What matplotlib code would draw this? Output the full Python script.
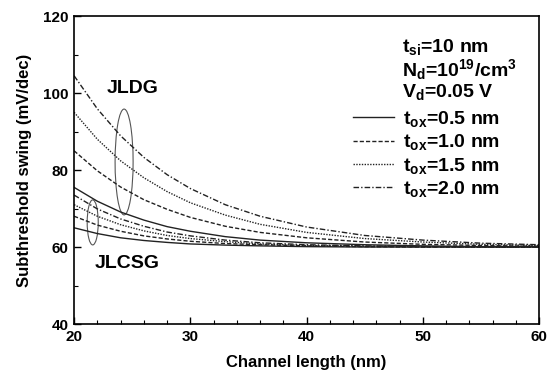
import matplotlib
matplotlib.use("Agg")
import matplotlib.pyplot as plt
from matplotlib.patches import Ellipse
from matplotlib.ticker import MultipleLocator

plt.rcParams['font.family'] = ['Liberation Sans', 'DejaVu Sans']
plt.rcParams['mathtext.fontset'] = 'custom'
plt.rcParams['mathtext.rm'] = 'Liberation Sans:bold'
plt.rcParams['mathtext.it'] = 'Liberation Sans:bold'
plt.rcParams['mathtext.bf'] = 'Liberation Sans:bold'

# Channel length (nm)
L = [20, 22, 24, 26, 28, 30, 33, 36, 40, 45, 50, 55, 60]

# JLDG subthreshold swing (mV/dec)
jldg_05 = [75.5, 71.9, 69.1, 67.0, 65.3, 64.1, 62.7, 61.8, 61.1, 60.6, 60.3, 60.1, 60.1]
jldg_10 = [85.0, 79.8, 75.6, 72.3, 69.8, 67.7, 65.4, 63.8, 62.4, 61.3, 60.7, 60.4, 60.2]
jldg_15 = [95.0, 88.0, 82.4, 78.0, 74.4, 71.5, 68.3, 65.9, 63.8, 62.2, 61.3, 60.7, 60.4]
jldg_20 = [104.5, 95.9, 88.9, 83.3, 78.8, 75.2, 71.0, 68.0, 65.2, 63.0, 61.8, 61.0, 60.6]

# JLCSG subthreshold swing (mV/dec)
jlcsg_05 = [65.0, 63.5, 62.4, 61.7, 61.2, 60.8, 60.5, 60.3, 60.1, 60.0, 60.0, 60.0, 60.0]
jlcsg_10 = [68.0, 65.7, 64.1, 62.9, 62.1, 61.5, 60.9, 60.6, 60.3, 60.1, 60.0, 60.0, 60.0]
jlcsg_15 = [71.0, 68.0, 65.8, 64.2, 63.0, 62.2, 61.4, 60.8, 60.4, 60.2, 60.1, 60.0, 60.0]
jlcsg_20 = [73.5, 69.9, 67.3, 65.4, 63.9, 62.9, 61.8, 61.1, 60.6, 60.3, 60.1, 60.05, 60.0]

legend_labels = [r"t$_{\rm ox}$=0.5 nm", r"t$_{\rm ox}$=1.0 nm",
                 r"t$_{\rm ox}$=1.5 nm", r"t$_{\rm ox}$=2.0 nm"]
styles = ['-', (0, (3, 1.5)), (0, (1, 1)), (0, (4, 1.5, 1, 1.5))]

fig = plt.figure(figsize=(5.53, 3.75), dpi=100)
ax = fig.add_axes([0.134, 0.136, 0.841, 0.821])

col = '#222222'
handles = []
for jl, cs, ls, lab in zip([jldg_05, jldg_10, jldg_15, jldg_20],
                           [jlcsg_05, jlcsg_10, jlcsg_15, jlcsg_20],
                           styles, legend_labels):
    h, = ax.plot(L, jl, color=col, linestyle=ls, lw=1.0, label=lab)
    ax.plot(L, cs, color=col, linestyle=ls, lw=1.0)
    handles.append(h)

ax.set_xlim(20, 60)
ax.set_ylim(40, 120)
ax.xaxis.set_major_locator(MultipleLocator(10))
ax.xaxis.set_minor_locator(MultipleLocator(2))
ax.yaxis.set_major_locator(MultipleLocator(20))
ax.yaxis.set_minor_locator(MultipleLocator(10))
ax.tick_params(which='both', direction='in', top=False, right=False)
ax.tick_params(which='major', length=5, width=1, labelsize=11, pad=4)
ax.tick_params(which='minor', length=3, width=0.8)
for lbl in ax.get_xticklabels() + ax.get_yticklabels():
    lbl.set_fontweight('bold')
for sp in ax.spines.values():
    sp.set_linewidth(1.2)

ax.set_xlabel("Channel length (nm)", fontsize=12, fontweight='bold', labelpad=8)
ax.set_ylabel("Subthreshold swing (mV/dec)", fontsize=12, fontweight='bold', labelpad=8)

# Ellipses and group labels
ax.add_patch(Ellipse((24.3, 82.1), 1.55, 27.5, fill=False, edgecolor='#555555', lw=0.8))
ax.add_patch(Ellipse((21.6, 66.4), 0.95, 11.7, fill=False, edgecolor='#555555', lw=0.8))
ax.text(25.0, 101.3, "JLDG", fontsize=14, fontweight='bold', ha='center', va='center')
ax.text(24.6, 55.8, "JLCSG", fontsize=14, fontweight='bold', ha='center', va='center')

# Parameter text
ax.text(0.706, 0.900, r"t$_{\rm si}$=10 nm", transform=ax.transAxes,
        fontsize=14, fontweight='bold', va='center')
ax.text(0.706, 0.825, r"N$_{\rm d}$=10$^{\rm 19}$/cm$^{\rm 3}$", transform=ax.transAxes,
        fontsize=14, fontweight='bold', va='center')
ax.text(0.706, 0.754, r"V$_{\rm d}$=0.05 V", transform=ax.transAxes,
        fontsize=14, fontweight='bold', va='center')

leg = ax.legend(handles=handles, loc='upper left', bbox_to_anchor=(0.57, 0.742),
                frameon=False, fontsize=14, handlelength=2.1, handletextpad=0.5,
                labelspacing=0.17, borderpad=0.2)
for t in leg.get_texts():
    t.set_fontweight('bold')

fig.savefig("out.png", dpi=100)
